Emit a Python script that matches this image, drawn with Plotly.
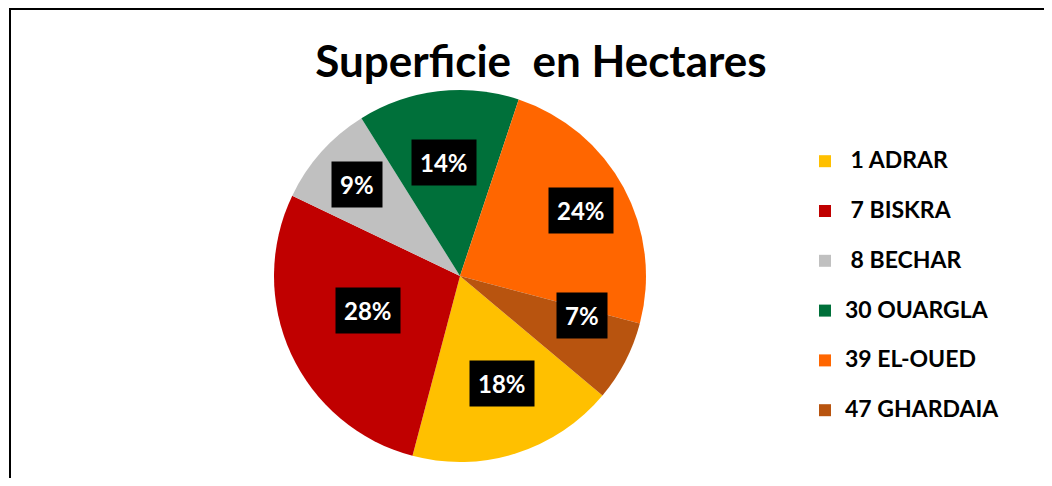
import math
import plotly.graph_objects as go

# wilayas and their share of the area (in %)
wilayas = ['\u00a01 ADRAR', '\u00a07 BISKRA', '\u00a08 BECHAR', '30 OUARGLA', '39 EL-OUED', '47 GHARDAIA']
parts = [18, 28, 9, 14, 24, 7]
couleurs = ['#FFC000', '#C00000', '#C0C0C0', '#00703A', '#FF6600', '#B8540F']

# page body has an 8px margin, so the figure is a bit smaller than the window
W, H = 1036, 470
OFF = 8


def px(x):
    return (x - OFF) / W


def py(y):
    return 1 - (y - OFF) / H


rot = 130
# pie placement in window pixels
cx, cy, R = 460, 276, 186

fig = go.Figure()
fig.add_trace(go.Pie(
    labels=["<span style='font-size:23px'><b>%s</b></span><br>\u00a0" % w for w in wilayas],
    values=parts,
    sort=False,
    direction='clockwise',
    rotation=rot,
    marker=dict(colors=couleurs, line=dict(width=0)),
    textinfo='none',
    hoverinfo='skip',
    domain=dict(x=[px(cx - R), px(cx + R)], y=[py(cy + R), py(cy - R)]),
))

# black percentage boxes in each slice
total = sum(parts)
cum = 0
for p in parts:
    mid = rot + (cum + p / 2) / total * 360
    cum += p
    a = math.radians(mid)
    r = 0.74 * R
    x = cx + r * math.sin(a)
    y = cy - r * math.cos(a)
    fig.add_annotation(
        x=px(x), y=py(y), xref='paper', yref='paper',
        text='<b>%d%%</b>' % round(p / total * 100), showarrow=False,
        font=dict(family='Lato', size=24, color='white'),
        bgcolor='black', borderpad=8,
    )

fig.add_shape(type='rect', xref='paper', yref='paper',
              x0=px(10), x1=px(1045), y0=-0.1, y1=py(9),
              line=dict(color='black', width=2))

fig.update_layout(
    width=W, height=H,
    margin=dict(l=0, r=0, t=0, b=0),
    paper_bgcolor='white',
    title=dict(text='<b>Superficie  en Hectares</b>', x=px(541), xanchor='center',
               y=py(62), yanchor='middle',
               font=dict(family='Lato', size=44, color='black')),
    legend=dict(x=px(805), y=py(143), xanchor='left', yanchor='top',
                valign='top', font=dict(family='Lato', size=18, color='black'),
                traceorder='normal'),
)

fig.write_html('out.html')
